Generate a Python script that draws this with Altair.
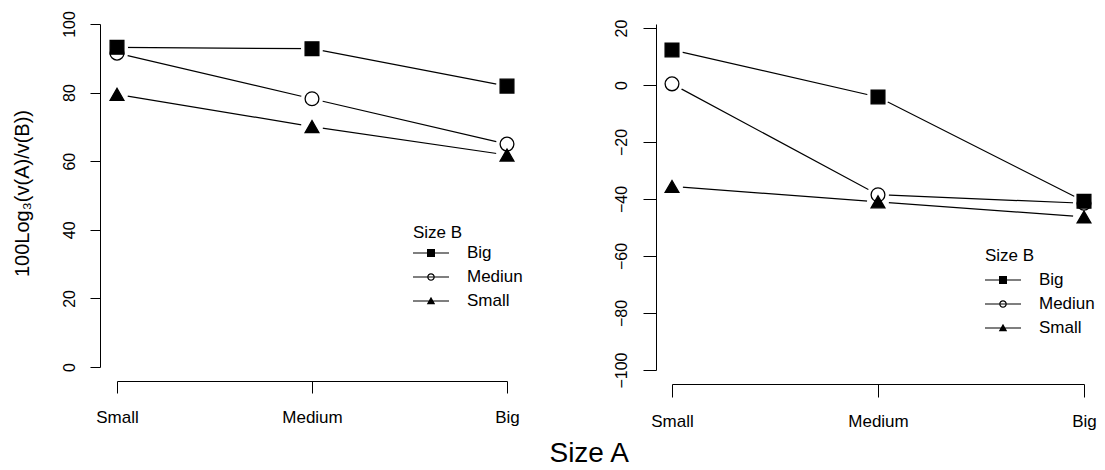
import altair as alt
import pandas as pd

# ---------------- data ----------------
size_a = ["Small", "Medium", "Big"]          # x categories (Size A)
size_b = ["Big", "Medium", "Small"]          # series (Size B)
legend_labels = ["Big", "Mediun", "Small"]   # legend text as printed

left_big = [93.2, 92.8, 81.9]
left_medium = [91.5, 78.2, 65.0]
left_small = [79.5, 70.1, 61.8]

right_big = [12.3, -4.2, -40.8]
right_medium = [0.4, -38.5, -41.5]
right_small = [-35.6, -41.0, -46.3]

left_ticks = [0, 20, 40, 60, 80, 100]
right_ticks = [-100, -80, -60, -40, -20, 0, 20]

y_title = "100Log\u2083(v(A)/v(B))"
x_title = "Size A"
legend_title = "Size B"

FONT = "Liberation Sans"


def frame(series_vals):
    rows = []
    for b, lab, vals in zip(size_b, legend_labels, series_vals):
        for i, (a, v) in enumerate(zip(size_a, vals)):
            rows.append({"sizeA": a, "sizeB": b, "legendLabel": lab, "idx": i, "value": v})
    return pd.DataFrame(rows)


left_df = frame([left_big, left_medium, left_small])
right_df = frame([right_big, right_medium, right_small])

# legend symbols: line + marker, as custom symbol paths
LINE = "M-1.8,-0.06H1.8V0.06H-1.8Z"
SQ = LINE + "M-0.4,-0.4H0.4V0.4H-0.4Z"
CI = (LINE + "M0.38,0A0.38,0.38 0 1,1 -0.38,0A0.38,0.38 0 1,1 0.38,0Z"
      "M0.26,0A0.26,0.26 0 1,0 -0.26,0A0.26,0.26 0 1,0 0.26,0Z")
TR = LINE + "M-0.42,0.32L0,-0.42L0.42,0.32Z"


def panel(df, width, height, ydomain, yticks, yaxis_kw, xaxis_kw, legend_xy, title_pad):
    xenc = alt.X("sizeA:N", sort=size_a,
                 scale=alt.Scale(type="point", domain=size_a, padding=0),
                 axis=alt.Axis(title=None, grid=False, labelAngle=0, labelFont=FONT,
                               labelFontSize=17, labelColor="black", domainColor="black",
                               tickColor="black", domainWidth=1, tickWidth=1,
                               labelFlush=False, labelOverlap=False, **xaxis_kw))
    yenc = alt.Y("value:Q",
                 scale=alt.Scale(domain=ydomain, nice=False, zero=False),
                 axis=alt.Axis(values=yticks, grid=False, labelAngle=270, labelAlign="center",
                               labelBaseline="middle", labelFont=FONT, labelFontSize=16,
                               labelColor="black", domainColor="black", tickColor="black",
                               domainWidth=1, tickWidth=1, labelFlush=False,
                               labelOverlap=False, **yaxis_kw))
    base = alt.Chart(df)
    lines = base.mark_line(color="black", strokeWidth=1.2).encode(
        x=xenc, y=yenc, detail="sizeB:N", order="idx:Q")
    halo = base.mark_point(shape="circle", size=480, filled=True, color="white",
                           opacity=1).encode(x=xenc, y=yenc)
    markers = base.mark_point(filled=True, size=190, stroke="black", strokeWidth=1.3,
                              opacity=1).encode(
        x=xenc, y=yenc,
        shape=alt.Shape("sizeB:N", scale=alt.Scale(domain=size_b,
                        range=["square", "circle", "triangle-up"]), legend=None),
        fill=alt.Fill("sizeB:N", scale=alt.Scale(domain=size_b,
                      range=["black", "transparent", "black"]), legend=None),
    )
    leg = base.transform_filter("datum.idx < 0").mark_point(
        filled=True, color="black", opacity=1).encode(
        shape=alt.Shape("legendLabel:N",
                        scale=alt.Scale(domain=legend_labels, range=[SQ, CI, TR]),
                        legend=alt.Legend(title=legend_title, orient="none",
                                          legendX=legend_xy[0], legendY=legend_xy[1],
                                          symbolSize=400, symbolStrokeWidth=0,
                                          symbolFillColor="black",
                                          symbolOffset=8, labelOffset=26,
                                          titleFont=FONT, titleFontSize=17,
                                          titleFontWeight="normal", titleColor="black",
                                          labelFont=FONT, labelFontSize=17,
                                          labelColor="black", rowPadding=6,
                                          titlePadding=title_pad, padding=0))
    )
    return alt.layer(lines, halo, markers, leg).resolve_scale(
        shape="independent", fill="independent").properties(width=width, height=height)


left = panel(
    left_df, 390, 343, [0, 100], left_ticks,
    dict(offset=17, tickSize=10, labelPadding=21, title=y_title, titleX=-78, titleY=169,
         titleAngle=270, titleAlign="center", titleBaseline="middle", titleFont=FONT,
         titleFontSize=20, titleFontWeight="normal", titleColor="black"),
    dict(offset=14, tickSize=12, labelPadding=16),
    (296, 201), 1,
)
right = panel(
    right_df, 412, 346, [-100, 21.4], right_ticks,
    dict(offset=16, tickSize=13, labelPadding=22, title=None),
    dict(offset=14, tickSize=13, labelPadding=16),
    (313, 224), 5,
)

chart = alt.hconcat(left, right, spacing=165, bounds="flush").properties(
    title=alt.TitleParams(x_title, orient="bottom", anchor="middle", fontSize=28,
                          font=FONT, fontWeight="normal", color="black", offset=10, dx=35),
    padding={"left": 11, "top": 10, "right": 0, "bottom": 0},
    background="white",
).configure_view(stroke="transparent")

chart.save("out.html", embed_options={"renderer": "svg", "actions": False})
